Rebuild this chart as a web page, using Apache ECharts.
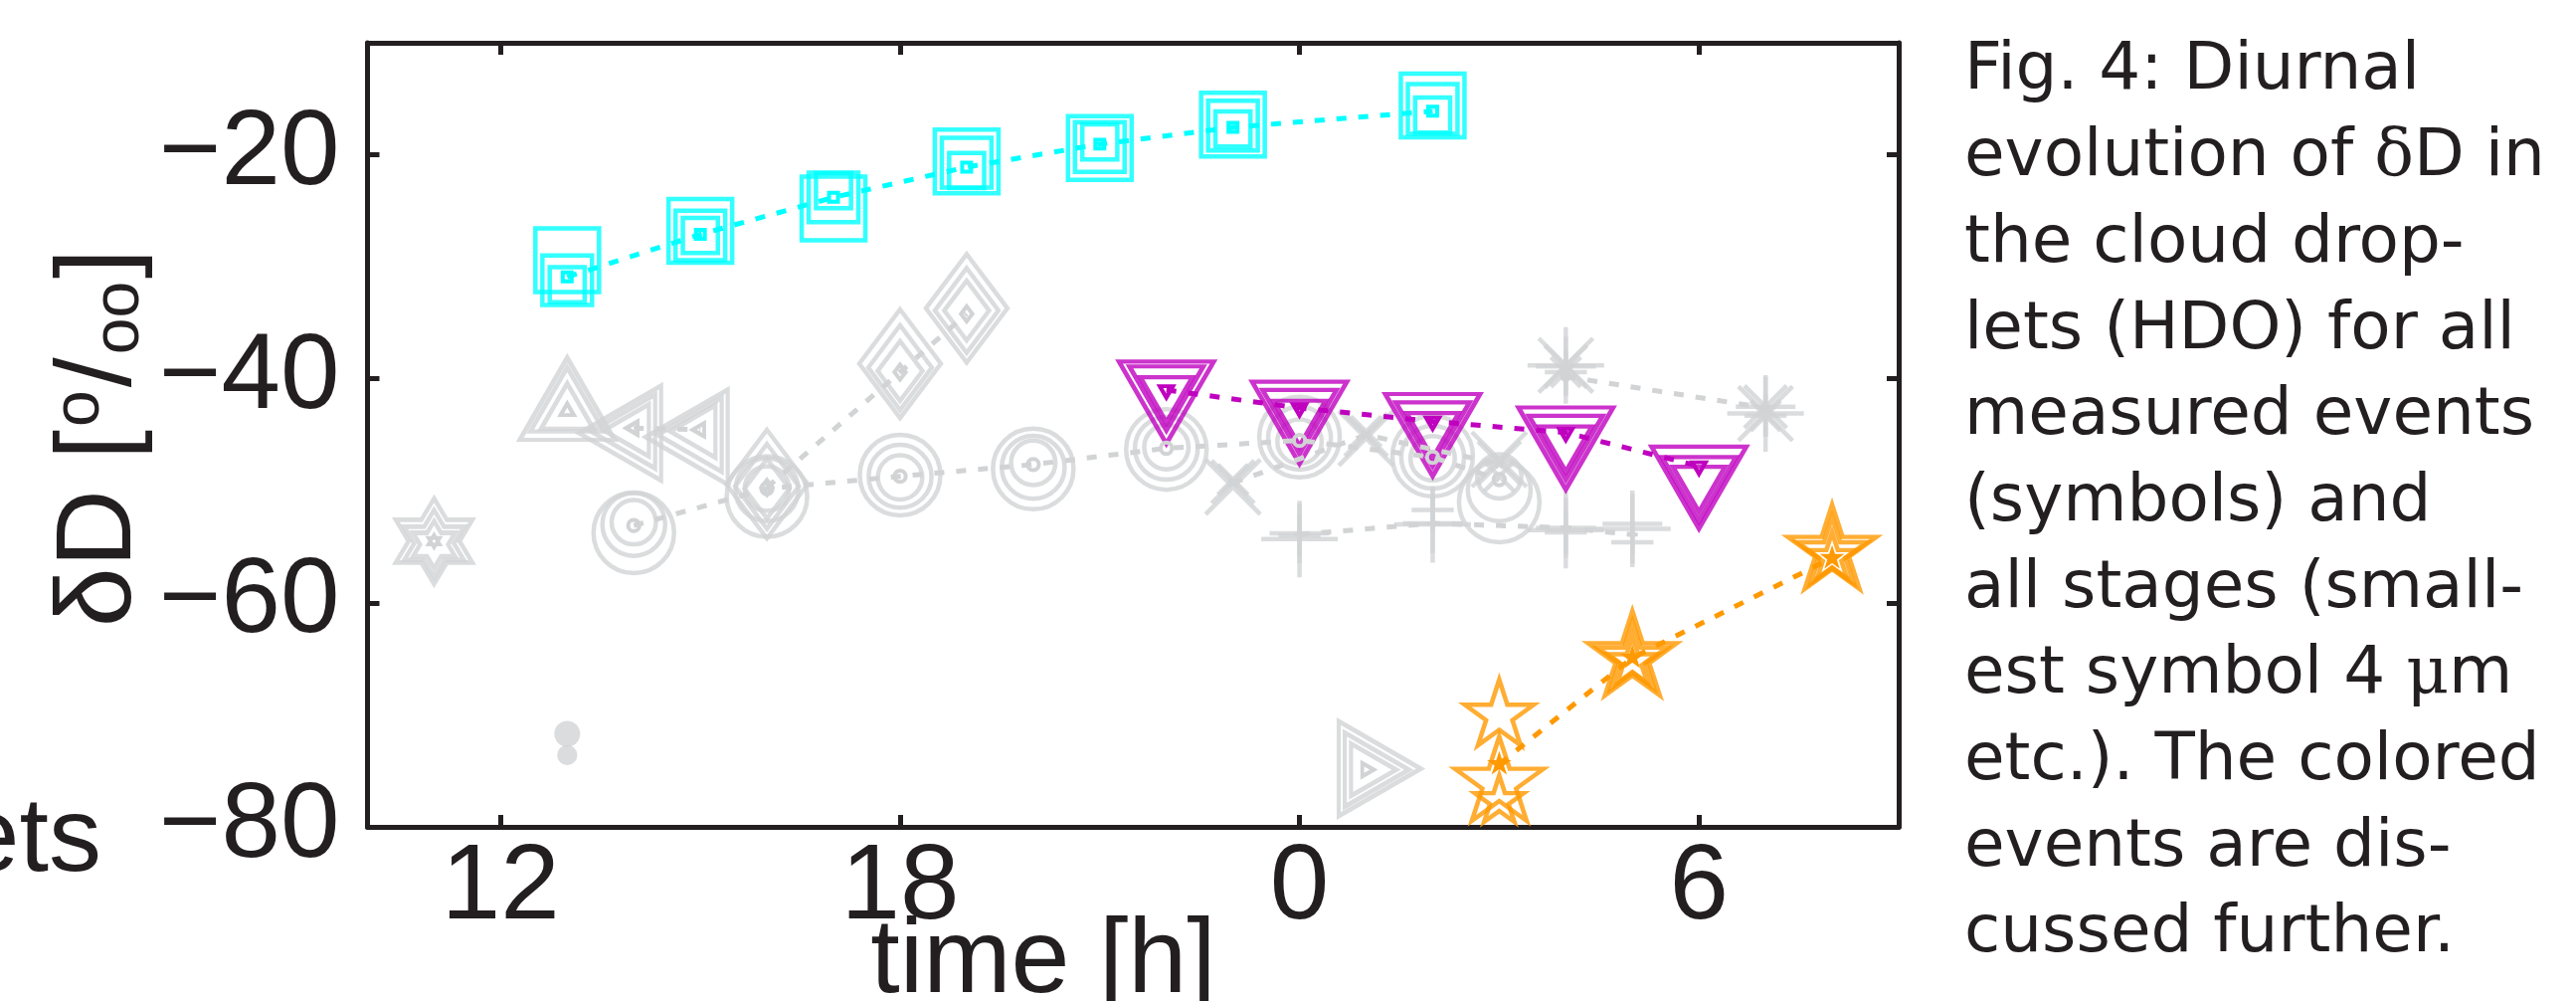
<!DOCTYPE html>
<html>
<head>
<meta charset="utf-8">
<script src="https://cdn.jsdelivr.net/npm/echarts@6/dist/echarts.min.js"></script>
<style>
  html, body { margin: 0; padding: 0; background: #ffffff; }
  #chart { width: 2590px; height: 1006px; }
</style>
</head>
<body>
<div id="chart"></div>
<script>
// ---- axis ticks ----
const xTickValues = [12, 18, 24, 30];
const xTickLabels = ['12', '18', '0', '6'];
const yTickValues = [-80, -60, -40, -20];
const yTickLabels = ['\u221280', '\u221260', '\u221240', '\u221220'];

// ---- events: time [h] (values past 24 are the next day) and δD per droplet stage ----
// hexagram
const hexTimes = [11];
const hexLarge = [-54.5];
const hexMid   = [-54.7];
const hexSmall = [-54.8];
const hexTiny  = [-54.5];
// upward triangle
const upTimes = [13];
const upLarge = [-43.0];
const upMid   = [-42.8];
const upSmall = [-43.1];
const upTiny  = [-42.9];
// point
const dotTimes = [13];
const dotLarge = [-71.7];
const dotMid   = [-73.6];
// left triangle
const leftTimes = [14, 15];
const leftLarge = [-44.85, -45.2];
const leftMid   = [-44.7, -45.0];
const leftSmall = [-44.6, -44.7];
const leftTiny  = [-44.4, -44.55];
// diamond
const diaTimes = [16, 18, 19];
const diaLarge = [-49.4, -38.65, -33.7];
const diaMid   = [-49.6, -39.0, -33.9];
const diaSmall = [-49.8, -39.3, -33.9];
const diaTiny  = [-49.7, -39.4, -34.2];
// circle
const circTimes = [14, 16, 18, 20, 22, 24, 26, 27];
const circLarge = [-53.75, -50.5, -48.6, -48.05, -46.3, -45.2, -46.9, -51.0];
const circMid   = [-53.0, -49.9, -48.7, -47.9, -46.2, -45.3, -47.0, -49.9];
const circSmall = [-52.8, -49.8, -48.8, -47.5, -46.1, -45.6, -47.1, -48.7];
const circTiny  = [-53.1, -49.8, -48.7, -47.65, -46.2, -45.5, -47.0, -49.0];
// x-mark
const xmTimes = [23, 25, 27];
const xmLarge = [-49.65, -45.3, -47.2];
const xmMid   = [-49.2, -45.0, -47.5];
const xmSmall = [-49.0, -44.7, -48.7];
const xmTiny  = [-49.3, -45.0, -47.6];
// plus
const plusTimes = [24, 26, 28, 29];
const plusLarge = [-54.3, -53.0, -53.5, -53.4];
const plusMid   = [-53.8, -52.9, -53.3, -52.95];
const plusSmall = [-54.0, -51.7, -53.7, -54.6];
const plusTiny  = [-53.9, -52.9, -53.3, -53.9];
// asterisk
const astTimes = [28, 31];
const astLarge = [-38.8, -43.1];
const astMid   = [-38.9, -42.5];
const astSmall = [-39.4, -43.3];
const astTiny  = [-39.8, -42.6];
// right triangle
const rightTimes = [25];
const rightLarge = [-74.8];
const rightMid   = [-74.9];
const rightSmall = [-74.9];
const rightTiny  = [-74.9];
// squares (cyan)
const sqTimes = [13, 15, 17, 19, 21, 23, 26];
const sqLarge = [-29.4, -26.8, -24.8, -20.6, -19.4, -17.3, -15.6];
const sqMid   = [-31.2, -27.2, -23.8, -20.7, -19.3, -17.4, -15.9];
const sqSmall = [-31.6, -27.2, -23.2, -21.4, -18.85, -17.7, -16.45];
const sqTiny  = [-30.9, -27.1, -23.8, -21.1, -19.05, -17.55, -16.1];
// downward triangles (magenta)
const downTimes = [22, 24, 26, 28, 30];
const downLarge = [-40.9, -42.7, -43.8, -45.0, -48.5];
const downMid   = [-40.8, -42.9, -44.0, -45.2, -48.9];
const downSmall = [-41.2, -43.3, -44.4, -45.6, -49.2];
const downTiny  = [-41.0, -42.6, -43.8, -44.8, -47.8];
// pentagrams (orange)
const starTimes = [27, 29, 32];
const starLarge = [-76.1, -64.9, -55.4];
const starMid   = [-70.1, -65.0, -55.6];
const starSmall = [-77.7, -65.3, -56.0];
const starTiny  = [-74.4, -64.9, -56.0];

// ---- caption ----
const captionLines = [
  'Fig. 4: Diurnal',
  'evolution of {g|\u03b4}D in',
  'the cloud drop-',
  'lets (HDO) for all',
  'measured events',
  '(symbols) and',
  'all stages (small-',
  'est symbol 4 {g|\u03bc}m',
  'etc.). The colored',
  'events are dis-',
  'cussed further.'
];

// ---- styling ----
const INK = '#231F20';
const GRAY = '#D1D3D4';
const CYAN = '#00FFFF';
const MAGENTA = '#BF00BF';
const ORANGE = '#FF9900';
const STAGE_FACTORS = [1, 0.78, 0.55, 0.14];

function starPath(n, inner) {
  let d = '';
  for (let k = 0; k < 2 * n; k++) {
    const a = -Math.PI / 2 + k * Math.PI / n;
    const r = k % 2 ? inner : 1;
    d += (k ? 'L' : 'M') + (r * Math.cos(a)).toFixed(4) + ' ' + (r * Math.sin(a)).toFixed(4);
  }
  return d + 'Z';
}
const PENTAGRAM = 'path://' + starPath(5, 0.382);
const HEXAGRAM = 'path://' + starPath(6, 0.577);
const PLUS = 'path://M0 -1L0 1M-1 0L1 0';
const XMARK = 'path://M-1 -1L1 1M-1 1L1 -1';
const ASTERISK = 'path://M0 -1L0 1M-1 0L1 0M-0.707 -0.707L0.707 0.707M-0.707 0.707L0.707 -0.707';

// Marker geometry in px; triangles are centred on their centroid, stars on their centre.
function markerFor(type, f) {
  const tri = { '^': [0, 0, -1], 'v': [180, 0, 1], '<': [90, -1, 0], '>': [-90, 1, 0] };
  if (tri[type]) {
    const r = 55 * f;
    const t = tri[type];
    return { symbol: 'triangle', size: [1.732 * r, 1.5 * r], rotate: t[0], offset: [t[1] * r / 4, t[2] * r / 4] };
  }
  switch (type) {
    case 's': return { symbol: 'rect', size: 64 * f };
    case 'o': return { symbol: 'circle', size: 81 * f };
    case '.': return { symbol: 'circle', size: 26 * f, filled: true };
    case 'd': return { symbol: 'diamond', size: [82 * f, 109 * f] };
    case 'p': {
      const R = 46.8 * f;
      return { symbol: PENTAGRAM, size: [1.902 * R, 1.809 * R], offset: [0, -0.0955 * R] };
    }
    case 'h': return { symbol: HEXAGRAM, size: [77 * f, 86 * f] };
    case '+': return { symbol: PLUS, size: 77 * f };
    case 'x': return { symbol: XMARK, size: 55 * f };
    case '*': return { symbol: ASTERISK, size: 77 * f };
  }
}

const events = [
  { marker: 'h', color: GRAY, times: hexTimes, stages: [hexLarge, hexMid, hexSmall], tiny: hexTiny },
  { marker: '^', color: GRAY, times: upTimes, stages: [upLarge, upMid, upSmall], tiny: upTiny },
  { marker: '.', color: GRAY, times: dotTimes, stages: [dotLarge, dotMid], tiny: null },
  { marker: '<', color: GRAY, times: leftTimes, stages: [leftLarge, leftMid, leftSmall], tiny: leftTiny },
  { marker: 'd', color: GRAY, times: diaTimes, stages: [diaLarge, diaMid, diaSmall], tiny: diaTiny },
  { marker: 'o', color: GRAY, times: circTimes, stages: [circLarge, circMid, circSmall], tiny: circTiny },
  { marker: 'x', color: GRAY, times: xmTimes, stages: [xmLarge, xmMid, xmSmall], tiny: xmTiny },
  { marker: '+', color: GRAY, times: plusTimes, stages: [plusLarge, plusMid, plusSmall], tiny: plusTiny },
  { marker: '*', color: GRAY, times: astTimes, stages: [astLarge, astMid, astSmall], tiny: astTiny },
  { marker: '>', color: GRAY, times: rightTimes, stages: [rightLarge, rightMid, rightSmall], tiny: rightTiny },
  { marker: 's', color: CYAN, times: sqTimes, stages: [sqLarge, sqMid, sqSmall], tiny: sqTiny },
  { marker: 'v', color: MAGENTA, times: downTimes, stages: [downLarge, downMid, downSmall], tiny: downTiny },
  { marker: 'p', color: ORANGE, times: starTimes, stages: [starLarge, starMid, starSmall], tiny: starTiny }
];

function pairs(times, vals) {
  return times.map((t, k) => [t, vals[k]]).filter(p => p[1] != null);
}

const series = [];
events.forEach(ev => {
  ev.stages.forEach((vals, i) => {
    const m = markerFor(ev.marker, STAGE_FACTORS[i]);
    series.push({
      type: 'scatter',
      silent: true,
      data: pairs(ev.times, vals),
      symbol: m.symbol,
      symbolSize: m.size,
      symbolRotate: m.rotate || 0,
      symbolOffset: m.offset || [0, 0],
      itemStyle: m.filled
        ? { color: ev.color, borderWidth: 0 }
        : { color: 'transparent', borderColor: ev.color, borderWidth: 4.5 }
    });
  });
  if (ev.tiny) {
    const m = markerFor(ev.marker, STAGE_FACTORS[3]);
    series.push({
      type: 'line',
      silent: true,
      data: pairs(ev.times, ev.tiny),
      showSymbol: true,
      symbol: m.symbol,
      symbolSize: m.size,
      symbolRotate: m.rotate || 0,
      symbolOffset: m.offset || [0, 0],
      itemStyle: { color: 'transparent', borderColor: ev.color, borderWidth: 4 },
      lineStyle: { color: ev.color, width: 5, type: [10, 12], cap: 'butt' }
    });
  }
});

const axisLine = { show: true, onZero: false, lineStyle: { color: INK, width: 5 } };
const axisTick = { show: true, inside: true, length: 12, lineStyle: { color: INK, width: 5 } };
const labelFont = { fontFamily: 'Liberation Sans', fontSize: 107, lineHeight: 107, color: INK };

const option = {
  animation: false,
  backgroundColor: '#ffffff',
  grid: { left: 369.5, right: 681, top: 43, bottom: 175, containLabel: false },
  xAxis: [
    {
      type: 'value', min: 10, max: 33, position: 'bottom',
      axisLine, splitLine: { show: false },
      axisTick: Object.assign({ customValues: xTickValues }, axisTick),
      axisLabel: Object.assign({
        customValues: xTickValues, margin: 9,
        formatter: v => xTickLabels[xTickValues.indexOf(v)]
      }, labelFont)
    },
    {
      type: 'value', min: 10, max: 33, position: 'top',
      axisLine, splitLine: { show: false },
      axisTick: Object.assign({ customValues: xTickValues }, axisTick),
      axisLabel: { show: false }
    }
  ],
  yAxis: [
    {
      type: 'value', min: -80, max: -10, position: 'left',
      axisLine, splitLine: { show: false },
      axisTick: Object.assign({ customValues: yTickValues }, axisTick),
      axisLabel: Object.assign({
        customValues: yTickValues, margin: 28,
        formatter: v => yTickLabels[yTickValues.indexOf(v)]
      }, labelFont)
    },
    {
      type: 'value', min: -80, max: -10, position: 'right',
      axisLine, splitLine: { show: false },
      axisTick: Object.assign({ customValues: yTickValues }, axisTick),
      axisLabel: { show: false }
    }
  ],
  graphic: [
    {
      type: 'text', x: 101, y: 440, rotation: Math.PI / 2, silent: true,
      style: {
        text: '{a|\u03b4D [}{sup|o}{a|/}{sub|oo}{a|]}',
        align: 'center', verticalAlign: 'middle',
        rich: {
          a: { fontFamily: 'Liberation Sans', fontSize: 108, fill: INK },
          sup: { fontFamily: 'Liberation Sans', fontSize: 66, fill: INK, padding: [0, 3, 40, 3] },
          sub: { fontFamily: 'Liberation Sans', fontSize: 66, fill: INK, padding: [40, 3, 0, 3] }
        }
      }
    },
    {
      type: 'text', x: 1049, y: 968, silent: true,
      style: { text: 'time [h]', fontFamily: 'Liberation Sans', fontSize: 106, fill: INK, align: 'center', verticalAlign: 'middle' }
    },
    {
      type: 'text', x: 102, y: 846, silent: true,
      style: { text: 'droplets', fontFamily: 'Liberation Sans', fontSize: 106, fill: INK, align: 'right', verticalAlign: 'middle' }
    },
    {
      type: 'text', x: 1975, y: 29, silent: true,
      style: {
        text: captionLines.join('\n'),
        fontFamily: 'DejaVu Sans', fontSize: 66, lineHeight: 86.7, fill: INK,
        align: 'left', verticalAlign: 'top',
        rich: { g: { fontFamily: 'DejaVu Serif', fontSize: 66, lineHeight: 86.7, fill: INK } }
      }
    }
  ],
  series: series
};

const chart = echarts.init(document.getElementById('chart'), null, { renderer: 'canvas', width: 2590, height: 1006 });
chart.setOption(option);
</script>
</body>
</html>
